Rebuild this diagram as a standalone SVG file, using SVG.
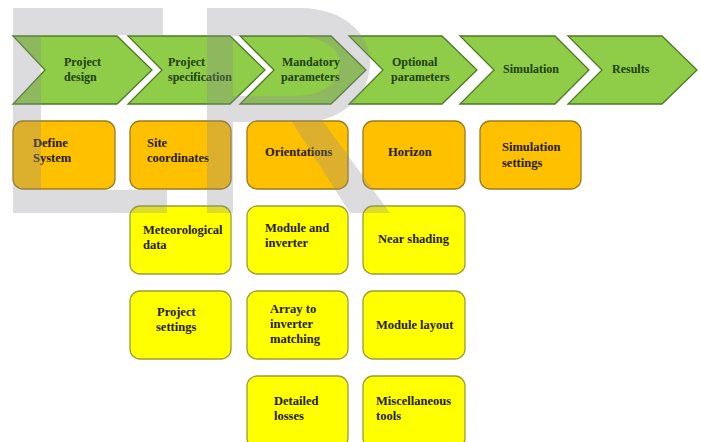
<svg xmlns="http://www.w3.org/2000/svg" width="701" height="442" viewBox="0 0 701 442">
  <style>
    .chev { fill: #8fcc47; stroke: #4e7a25; stroke-width: 1.3; }
    .step { fill: #1c3f0c; font-family: "Liberation Serif", "Times New Roman", serif; font-weight: bold; font-size: 12px; }
    .main { fill: #ffc000; stroke: #9a7a20; stroke-width: 1.3; }
    .sub { fill: #ffff00; stroke: #9c9c3a; stroke-width: 1.3; }
    .lbl { fill: #241a00; font-family: "Liberation Serif", "Times New Roman", serif; font-weight: bold; font-size: 12.5px; }
    .mark { fill: #8a8a96; opacity: 0.3; }
  </style>

  <rect width="701" height="442" fill="#ffffff"/>

  <!-- process steps -->
  <g id="step-project-design">
    <polygon class="chev" points="13,36 117,36 152,70 117,104 13,104 45,70"/>
    <text class="step" x="64" y="66">Project</text>
    <text class="step" x="64" y="81">design</text>
  </g>
  <g id="step-project-specification">
    <polygon class="chev" points="128,36 230,36 265,70 230,104 128,104 162,70"/>
    <text class="step" x="168" y="66">Project</text>
    <text class="step" x="168" y="81">specification</text>
  </g>
  <g id="step-mandatory-parameters">
    <polygon class="chev" points="240,36 331,36 366,70 331,104 240,104 274,70"/>
    <text class="step" x="282" y="66">Mandatory</text>
    <text class="step" x="281" y="81">parameters</text>
  </g>
  <g id="step-optional-parameters">
    <polygon class="chev" points="349,36 442,36 477,70 442,104 349,104 383,70"/>
    <text class="step" x="392" y="66">Optional</text>
    <text class="step" x="391" y="81">parameters</text>
  </g>
  <g id="step-simulation">
    <polygon class="chev" points="460,36 555,36 589,70 555,104 460,104 494,70"/>
    <text class="step" x="503" y="73">Simulation</text>
  </g>
  <g id="step-results">
    <polygon class="chev" points="568,36 662,36 697,70 662,104 568,104 602,70"/>
    <text class="step" x="612" y="73">Results</text>
  </g>

  <!-- first-level tasks -->
  <g id="define-system">
    <rect class="main" x="13" y="121" width="102" height="68" rx="10"/>
    <text class="lbl" x="33" y="147">Define</text>
    <text class="lbl" x="33" y="162">System</text>
  </g>
  <g id="site-coordinates">
    <rect class="main" x="130" y="121" width="101" height="68" rx="10"/>
    <text class="lbl" x="147" y="147">Site</text>
    <text class="lbl" x="147" y="162">coordinates</text>
  </g>
  <g id="orientations">
    <rect class="main" x="247" y="121" width="101" height="68" rx="10"/>
    <text class="lbl" x="265" y="156">Orientations</text>
  </g>
  <g id="horizon">
    <rect class="main" x="363" y="121" width="102" height="68" rx="10"/>
    <text class="lbl" x="388" y="156">Horizon</text>
  </g>
  <g id="simulation-settings">
    <rect class="main" x="480" y="121" width="101" height="68" rx="10"/>
    <text class="lbl" x="502" y="151">Simulation</text>
    <text class="lbl" x="502" y="167">settings</text>
  </g>

  <!-- detailed tasks -->
  <g id="meteorological-data">
    <rect class="sub" x="130" y="206" width="101" height="68" rx="10"/>
    <text class="lbl" x="143" y="234">Meteorological</text>
    <text class="lbl" x="143" y="249">data</text>
  </g>
  <g id="module-and-inverter">
    <rect class="sub" x="247" y="206" width="101" height="68" rx="10"/>
    <text class="lbl" x="265" y="232">Module and</text>
    <text class="lbl" x="265" y="247">inverter</text>
  </g>
  <g id="near-shading">
    <rect class="sub" x="363" y="206" width="102" height="68" rx="10"/>
    <text class="lbl" x="378" y="243">Near shading</text>
  </g>
  <g id="project-settings">
    <rect class="sub" x="130" y="291" width="101" height="68" rx="10"/>
    <text class="lbl" x="157" y="316">Project</text>
    <text class="lbl" x="156" y="331">settings</text>
  </g>
  <g id="array-to-inverter-matching">
    <rect class="sub" x="247" y="291" width="101" height="68" rx="10"/>
    <text class="lbl" x="270" y="313">Array to</text>
    <text class="lbl" x="270" y="328">inverter</text>
    <text class="lbl" x="270" y="343">matching</text>
  </g>
  <g id="module-layout">
    <rect class="sub" x="363" y="291" width="102" height="68" rx="10"/>
    <text class="lbl" x="376" y="329">Module layout</text>
  </g>
  <g id="detailed-losses">
    <rect class="sub" x="247" y="376" width="101" height="72" rx="10"/>
    <text class="lbl" x="274" y="405">Detailed</text>
    <text class="lbl" x="274" y="420">losses</text>
  </g>
  <g id="miscellaneous-tools">
    <rect class="sub" x="363" y="376" width="102" height="72" rx="10"/>
    <text class="lbl" x="376" y="405">Miscellaneous</text>
    <text class="lbl" x="376" y="420">tools</text>
  </g>

  <g id="connectors"/>

  <!-- translucent letterform overlay -->
  <g id="overlay">
    <path class="mark" d="M13,8 H163 V35 H41 V190 H167 V213 H13 Z"/>
    <path class="mark" fill-rule="evenodd" d="M207,8 H300 C345,8 370,35 370,62 C370,92 350,112 322,120 L390,213 H350 L292,122 H233 V213 H207 Z M233,36 H295 C322,36 340,48 340,64 C340,82 324,96 295,96 H233 Z"/>
  </g>
</svg>
